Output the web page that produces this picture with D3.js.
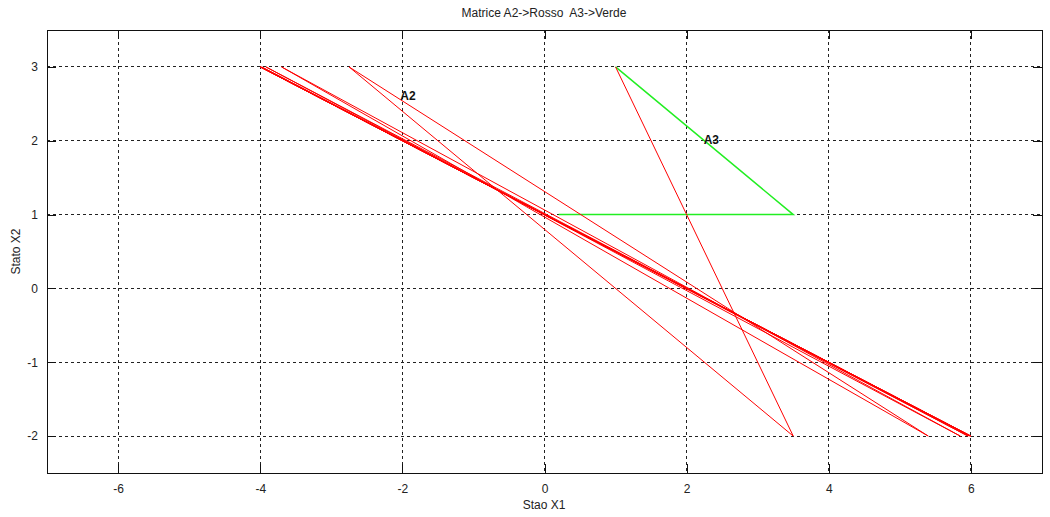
<!DOCTYPE html>
<html>
<head>
<meta charset="utf-8">
<script src="https://cdn.jsdelivr.net/npm/d3@7"></script>
<style>
  html, body { margin: 0; padding: 0; background: #fff; }
  svg { display: block; font-family: "Liberation Sans", Arial, sans-serif; }
  text { white-space: pre; }
</style>
</head>
<body>
<svg id="chart" width="1050" height="517"></svg>
<script>
// Axis ticks
const ticksX = [-6, -4, -2, 0, 2, 4, 6];
const ticksY = [-2, -1, 0, 1, 2, 3];

// Trajectory with matrix A2 (red)
const a2X = [1, 3.5, -2.75, 5.4, -3.7, 5.85, -3.92, 5.96, -3.98, 5.99, -4.0, 6.0, -4.0, 6.0];
const a2Y = [3, -2, 3, -2, 3, -2, 3, -2, 3, -2, 3, -2, 3, -2];

// Trajectory with matrix A3 (green)
const a3X = [0.2, 3.5, 1];
const a3Y = [1, 1, 3];

// Text annotations
const notes = [
  { label: "A2", x: -2.03, y: 2.6 },
  { label: "A3", x: 2.24, y: 2.0 }
];

const svg = d3.select("#chart");
const plotL = 47, plotR = 1042, plotT = 30, plotB = 473;

const x = d3.scaleLinear().domain([-7, 7]).range([plotL, plotR]);
const y = d3.scaleLinear().domain([-2.5, 3.5]).range([plotB, plotT]);
const fmt = d => String(d);

// Grid (dotted)
const grid = svg.append("g").attr("stroke", "#222").attr("stroke-width", 1)
  .attr("stroke-dasharray", "3,3").attr("shape-rendering", "crispEdges");
grid.selectAll("line.gx").data(ticksX).join("line")
  .attr("x1", d => Math.floor(x(d)) + 0.5).attr("x2", d => Math.floor(x(d)) + 0.5)
  .attr("y1", plotT).attr("y2", plotB);
grid.selectAll("line.gy").data(ticksY).join("line")
  .attr("y1", d => Math.floor(y(d)) + 0.5).attr("y2", d => Math.floor(y(d)) + 0.5)
  .attr("x1", plotL).attr("x2", plotR);

// Data lines
const line = d3.line().x(d => x(d[0])).y(d => y(d[1]));
const a2 = a2X.map((v, i) => [v, a2Y[i]]);
const a3 = a3X.map((v, i) => [v, a3Y[i]]);

svg.append("path").datum(a3).attr("d", line)
  .attr("fill", "none").attr("stroke", "#22ee22").attr("stroke-width", 1.5);
svg.append("path").datum(a2).attr("d", line)
  .attr("fill", "none").attr("stroke", "#ff0000").attr("stroke-width", 1)
  .attr("stroke-linejoin", "miter");

// Annotations
svg.selectAll("text.note").data(notes).join("text")
  .attr("class", "note")
  .attr("x", d => x(d.x)).attr("y", d => y(d.y))
  .attr("dominant-baseline", "middle")
  .attr("font-size", 12).attr("font-weight", "bold").attr("fill", "#111")
  .text(d => d.label);

// Axes with inward ticks on all four sides
const tickLen = 9;
const axes = svg.append("g").attr("shape-rendering", "crispEdges");
const xb = d3.axisBottom(x).tickValues(ticksX).tickFormat(fmt).tickSizeInner(-tickLen).tickSizeOuter(0).tickPadding(tickLen + 2);
const xt = d3.axisTop(x).tickValues(ticksX).tickSizeInner(-tickLen).tickSizeOuter(0).tickFormat("");
const yl = d3.axisLeft(y).tickValues(ticksY).tickFormat(fmt).tickSizeInner(-tickLen).tickSizeOuter(0).tickPadding(tickLen);
const yr = d3.axisRight(y).tickValues(ticksY).tickSizeInner(-tickLen).tickSizeOuter(0).tickFormat("");

function styleAxis(g) {
  g.select(".domain").remove();
  g.selectAll(".tick line").attr("stroke", "#111");
  g.selectAll(".tick text").attr("fill", "#222").attr("font-size", 12)
    .attr("font-family", "Liberation Sans, Arial, sans-serif");
}
axes.append("g").attr("transform", `translate(0,${plotB})`).call(xb).call(styleAxis);
axes.append("g").attr("transform", `translate(0,${plotT})`).call(xt).call(styleAxis);
axes.append("g").attr("transform", `translate(${plotL},0)`).call(yl).call(styleAxis);
axes.append("g").attr("transform", `translate(${plotR},0)`).call(yr).call(styleAxis);

// Box
svg.append("rect").attr("x", plotL + 0.5).attr("y", plotT + 0.5)
  .attr("width", plotR - plotL).attr("height", plotB - plotT)
  .attr("fill", "none").attr("stroke", "#111").attr("stroke-width", 1)
  .attr("shape-rendering", "crispEdges");

// Title and axis labels
svg.append("text").attr("x", 544).attr("y", 14)
  .attr("text-anchor", "middle").attr("dominant-baseline", "middle")
  .attr("font-size", 12).attr("fill", "#222")
  .text("Matrice A2->Rosso  A3->Verde");
svg.append("text").attr("x", 544).attr("y", 506)
  .attr("text-anchor", "middle").attr("dominant-baseline", "middle")
  .attr("font-size", 12).attr("fill", "#222")
  .text("Stao X1");
svg.append("text").attr("transform", `translate(17,${(plotT + plotB) / 2}) rotate(-90)`)
  .attr("text-anchor", "middle").attr("dominant-baseline", "middle")
  .attr("font-size", 12).attr("fill", "#222")
  .text("Stato X2");
</script>
</body>
</html>
